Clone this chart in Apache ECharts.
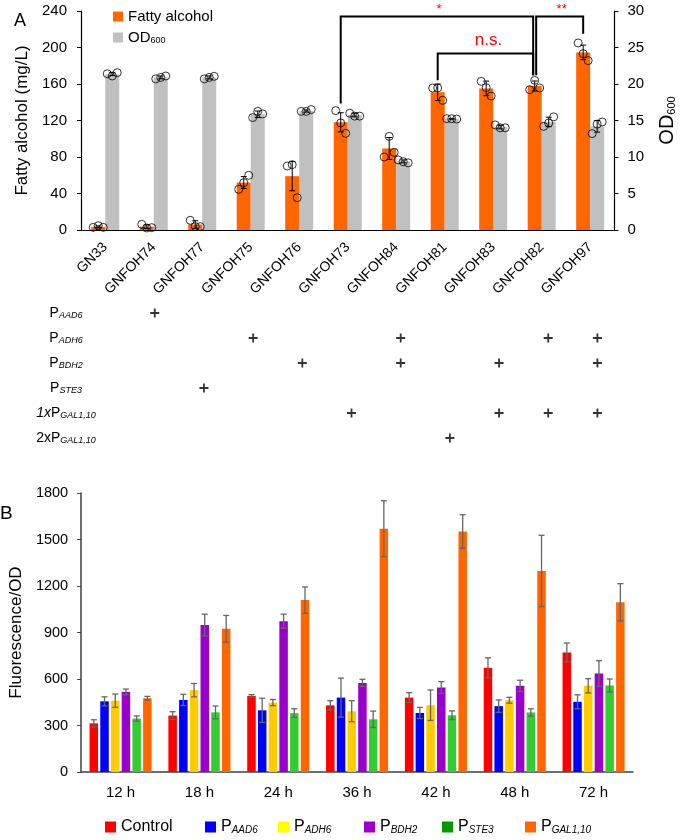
<!DOCTYPE html>
<html><head><meta charset="utf-8">
<script src="https://cdn.jsdelivr.net/npm/echarts@6/dist/echarts.min.js"></script>
<style>html,body{margin:0;padding:0;background:#fff}#c{width:685px;height:840px}</style>
</head><body><div id="c"></div>
<script>
// ---------- Panel A data ----------
const strains = ['GN33','GNFOH74','GNFOH77','GNFOH75','GNFOH76','GNFOH73','GNFOH84','GNFOH81','GNFOH83','GNFOH82','GNFOH97'];
const fattyAlcohol = [3.5, 3.7, 6, 52, 59, 118, 89.3, 151, 155.2, 157.8, 194.6];
const fattyAlcoholSD = [1, 2, 4.2, 6.5, 16, 10.5, 12, 9, 8, 5.5, 8];
const fattyAlcoholPoints = [
  [2.9, 4.7, 2.9], [6.2, 2.2, 2.6], [10.6, 3.7, 3.7], [44.6, 51.9, 59.9], [70.1, 71.6, 35.4],
  [130.8, 117.3, 105.9], [80, 102.6, 85.1], [155.6, 155.6, 142.1], [162.9, 156, 146.8],
  [153.8, 164, 155.6], [205, 193.2, 185.6]
];
const od600 = [21.35, 20.9, 20.9, 15.85, 16.3, 15.75, 9.4, 15.23, 14.1, 14.8, 14.2];
const od600SD = [0.2, 0.2, 0.2, 0.45, 0.15, 0.25, 0.2, 0.05, 0.25, 0.65, 0.8];
const od600Points = [
  [21.4, 21.1, 21.55], [20.7, 20.9, 21.1], [20.7, 20.9, 21.05], [15.4, 16.25, 15.9], [16.25, 16.25, 16.5],
  [16.0, 15.6, 15.6], [9.6, 9.36, 9.2], [15.25, 15.25, 15.2], [14.4, 14.0, 14.0],
  [14.2, 14.66, 15.5], [13.2, 14.5, 14.8]
];
// significance brackets (left-axis units)
const bracketFrom = ['GNFOH73', 'GNFOH81', 'GNFOH82'];
const bracketTo = ['GNFOH82', 'GNFOH82', 'GNFOH97'];
const bracketTop = [234, 193.5, 234];
const bracketFromEnd = [138.5, 164, 169.5];
const bracketToEnd = [169.5, 169.5, 215];
const bracketText = ['*', 'n.s.', '**'];

// promoter table
const promoterRows = ['P_AAD6', 'P_ADH6', 'P_BDH2', 'P_STE3', '1xP_GAL1,10', '2xP_GAL1,10'];
const plusMarks = [
  ['GNFOH74', 'P_AAD6'],
  ['GNFOH75', 'P_ADH6'], ['GNFOH84', 'P_ADH6'], ['GNFOH82', 'P_ADH6'], ['GNFOH97', 'P_ADH6'],
  ['GNFOH76', 'P_BDH2'], ['GNFOH84', 'P_BDH2'], ['GNFOH83', 'P_BDH2'], ['GNFOH97', 'P_BDH2'],
  ['GNFOH77', 'P_STE3'],
  ['GNFOH73', '1xP_GAL1,10'], ['GNFOH83', '1xP_GAL1,10'], ['GNFOH82', '1xP_GAL1,10'], ['GNFOH97', '1xP_GAL1,10'],
  ['GNFOH81', '2xP_GAL1,10']
];

// ---------- Panel B data ----------
const timepoints = ['12 h', '18 h', '24 h', '36 h', '42 h', '48 h', '72 h'];
const seriesB = ['Control', 'P_AAD6', 'P_ADH6', 'P_BDH2', 'P_STE3', 'P_GAL1,10'];
const control   = [314, 364, 491, 430, 480, 672, 771];
const controlSD = [23, 25, 8, 30, 32, 65, 61];
const pAAD6     = [456, 465, 398, 480, 381, 425, 453];
const pAAD6SD   = [29, 36, 78, 126, 36, 40, 45];
const pADH6     = [460, 528, 448, 392, 431, 463, 556];
const pADH6SD   = [43, 43, 20, 68, 98, 19, 46];
const pBDH2     = [517, 948, 973, 575, 545, 556, 636];
const pBDH2SD   = [18, 70, 45, 23, 38, 36, 82];
const pSTE3     = [345, 385, 380, 340, 366, 384, 558];
const pSTE3SD   = [17, 41, 28, 53, 28, 24, 42];
const pGAL     = [476, 924, 1109, 1569, 1552, 1297, 1095];
const pGALSD   = [12, 86, 85, 181, 108, 230, 120];

// ---------- styles ----------
const FONT = 'Liberation Sans, Arial, sans-serif';
const barColorsB = ['#ff0000', '#0000ff', '#ffcc00', '#9900cc', '#33cc33', '#ff6600'];
const legendColorsB = ['#ff0000', '#0000ff', '#ffff00', '#9900cc', '#009900', '#ff6600'];
const legendLeftB = [100, 200, 273, 359, 437, 520];
const jitter = [-5, 0, 5];
const barW_A = 14;
const barW_B = 8.5, gapB = 2.21;
const bracketNudgeL = [0, 0, 1.5];
const bracketNudgeR = [-1.5, -1.5, 0];

function subRich(M, S) {
  const pad = Math.round(M - 0.8 * S);
  return {
    m: {fontSize: M, lineHeight: M, verticalAlign: 'top', fontFamily: FONT, color: '#000'},
    i: {fontSize: M, lineHeight: M, verticalAlign: 'top', fontFamily: FONT, fontStyle: 'italic', color: '#000'},
    s: {fontSize: S, lineHeight: S, verticalAlign: 'bottom', fontFamily: FONT, fontStyle: 'italic', color: '#000', padding: [pad, 0, 0, 0]},
    n: {fontSize: S, lineHeight: S, verticalAlign: 'bottom', fontFamily: FONT, color: '#000', padding: [pad, 0, 0, 0]}
  };
}
function promoterLabel(key) {
  const k = key.indexOf('P_');
  if (k < 0) return '{m|' + key + '}{n| }';
  const pre = key.slice(0, k), sub = key.slice(k + 2);
  let out = '';
  if (pre === '1x') out += '{i|1x}';
  else if (pre) out += '{m|' + pre + '}';
  return out + '{m|P}{s|' + sub + '}';
}

function errorBars(xi, yi, means, sds, offset, color, lw, capHalf) {
  return {
    type: 'custom', xAxisIndex: xi, yAxisIndex: yi, silent: true, z: 4,
    data: means.map((m, i) => [i, m, sds[i]]),
    renderItem: function (params, api) {
      const i = api.value(0), m = api.value(1), s = api.value(2);
      const hi = api.coord([i, m + s]), lo = api.coord([i, m - s]);
      const x = hi[0] + offset;
      const st = {stroke: color, lineWidth: lw};
      return {type: 'group', children: [
        {type: 'line', shape: {x1: x, y1: hi[1], x2: x, y2: lo[1]}, style: st},
        {type: 'line', shape: {x1: x - capHalf, y1: hi[1], x2: x + capHalf, y2: hi[1]}, style: st},
        {type: 'line', shape: {x1: x - capHalf, y1: lo[1], x2: x + capHalf, y2: lo[1]}, style: st}
      ]};
    }
  };
}
function points(yi, pts, barOffset) {
  const data = [];
  pts.forEach((trip, i) => trip.forEach((v, k) => data.push({value: [i, v], symbolOffset: [barOffset + jitter[k], 0]})));
  return {
    type: 'scatter', xAxisIndex: 0, yAxisIndex: yi, z: 5, silent: true,
    symbol: 'circle', symbolSize: 8,
    itemStyle: {color: 'rgba(255,255,255,0)', borderColor: '#000', borderWidth: 1},
    data: data
  };
}

const axisBlack = {lineStyle: {color: '#000', width: 1.2}};
const seriesList = [];
seriesList.push({type: 'bar', name: 'Fatty alcohol', xAxisIndex: 0, yAxisIndex: 0, data: fattyAlcohol,
  barWidth: barW_A, barGap: '0%', itemStyle: {color: '#ff6600'}, silent: true});
seriesList.push({type: 'bar', name: 'OD600', xAxisIndex: 0, yAxisIndex: 1, data: od600,
  barWidth: barW_A, barGap: '0%', itemStyle: {color: '#c0c0c0'}, silent: true});
seriesList.push(errorBars(0, 0, fattyAlcohol, fattyAlcoholSD, -barW_A / 2, '#000', 1, 3));
seriesList.push(errorBars(0, 1, od600, od600SD, barW_A / 2, '#000', 1, 3));
seriesList.push(points(0, fattyAlcoholPoints, -barW_A / 2));
seriesList.push(points(1, od600Points, barW_A / 2));
// brackets
seriesList.push({
  type: 'custom', xAxisIndex: 0, yAxisIndex: 0, silent: true, z: 6,
  data: bracketFrom.map((f, k) => [strains.indexOf(f), strains.indexOf(bracketTo[k]), bracketTop[k], bracketFromEnd[k], bracketToEnd[k]]),
  renderItem: function (params, api) {
    const k = params.dataIndex;
    const a = api.coord([api.value(0), api.value(3)]);
    const at = api.coord([api.value(0), api.value(2)]);
    const b = api.coord([api.value(1), api.value(4)]);
    const x1 = a[0] - barW_A / 2 + bracketNudgeL[k];
    const x2 = b[0] - barW_A / 2 + bracketNudgeR[k];
    const yt = at[1];
    const isNS = bracketText[k] === 'n.s.';
    return {type: 'group', children: [
      {type: 'polyline', shape: {points: [[x1, a[1]], [x1, yt], [x2, yt], [x2, b[1]]]},
        style: {stroke: '#000', lineWidth: 2, fill: null}},
      {type: 'text', x: (x1 + x2) / 2 + (isNS ? 3 : 2), y: yt - (isNS ? 5 : 1),
        style: {text: bracketText[k], fill: '#ff0000', fontSize: isNS ? 17 : 13, fontFamily: FONT,
          align: 'center', verticalAlign: 'bottom'}}
    ]};
  }
});
// plus table
seriesList.push({
  type: 'scatter', xAxisIndex: 1, yAxisIndex: 2, silent: true,
  symbol: 'path://M3.6,0H5.4V3.6H9V5.4H5.4V9H3.6V5.4H0V3.6H3.6Z', symbolSize: 9,
  itemStyle: {color: '#000'},
  data: plusMarks
});
// panel B bars + error bars
const valsB = [control, pAAD6, pADH6, pBDH2, pSTE3, pGAL];
const sdsB = [controlSD, pAAD6SD, pADH6SD, pBDH2SD, pSTE3SD, pGALSD];
seriesB.forEach((n, k) => {
  seriesList.push({type: 'bar', name: n, xAxisIndex: 2, yAxisIndex: 3, data: valsB[k],
    barWidth: barW_B, barGap: (gapB / barW_B * 100).toFixed(1) + '%', itemStyle: {color: barColorsB[k]}, silent: true});
});
seriesB.forEach((n, k) => {
  seriesList.push(errorBars(2, 3, valsB[k], sdsB[k], (k - 2.5) * (barW_B + gapB), '#666', 1.3, 3));
});

const legends = [{
  orient: 'vertical', left: 108, top: 4, itemWidth: 10, itemHeight: 10, itemGap: 4, icon: 'rect',
  data: ['Fatty alcohol', 'OD600'],
  formatter: n => n === 'OD600' ? '{m|OD}{n|600}' : '{m|' + n + '}',
  textStyle: {rich: subRich(15, 9), fontSize: 15, fontFamily: FONT, color: '#000'},
  selectedMode: false
}];
seriesB.forEach((n, k) => {
  legends.push({
    left: legendLeftB[k], top: 812, itemWidth: 11, itemHeight: 11, icon: 'rect',
    data: [{name: n, itemStyle: {color: legendColorsB[k]}}],
    formatter: promoterLabel,
    textStyle: {rich: subRich(16, 10), fontSize: 16, fontFamily: FONT, color: '#000'},
    selectedMode: false
  });
});

const option = {
  animation: false,
  textStyle: {fontFamily: FONT},
  grid: [
    {left: 81, top: 11, width: 541, height: 219},
    {left: 81, top: 300.5, width: 541, height: 150},
    {left: 72, top: 493, width: 561, height: 279}
  ],
  legend: legends,
  graphic: [
    {type: 'text', left: 14, top: 12, style: {text: 'A', fontSize: 18, fontFamily: FONT, fill: '#000'}},
    {type: 'text', left: 0, top: 504, style: {text: 'B', fontSize: 19, fontFamily: FONT, fill: '#000'}}
  ],
  xAxis: [
    {type: 'category', gridIndex: 0, data: strains, axisLine: axisBlack, axisTick: {show: false},
      axisLabel: {rotate: 45, interval: 0, fontSize: 14, color: '#000', margin: 15}},
    {type: 'category', gridIndex: 1, data: strains, show: false},
    {type: 'category', gridIndex: 2, data: timepoints, axisLine: {lineStyle: {color: '#404040', width: 1.5}},
      axisTick: {show: false}, axisLabel: {fontSize: 15, color: '#000', margin: 13}}
  ],
  yAxis: [
    {type: 'value', gridIndex: 0, min: 0, max: 240, interval: 40, axisLine: {show: true, lineStyle: {color: '#000', width: 1.2}},
      axisTick: {show: true, length: 4, lineStyle: {color: '#000'}}, splitLine: {show: false},
      axisLabel: {fontSize: 15, color: '#000', margin: 14},
      name: 'Fatty alcohol (mg/L)', nameLocation: 'middle', nameGap: 42, nameRotate: 90,
      nameTextStyle: {fontSize: 17, color: '#000', fontFamily: FONT}},
    {type: 'value', gridIndex: 0, position: 'right', min: 0, max: 30, interval: 5, axisLine: {show: true, lineStyle: {color: '#000', width: 1.2}},
      axisTick: {show: true, length: 4, lineStyle: {color: '#000'}}, splitLine: {show: false},
      axisLabel: {fontSize: 15, color: '#000', margin: 13},
      name: '{m|OD}{n|600}', nameLocation: 'middle', nameGap: 36, nameRotate: 90,
      nameTextStyle: {fontSize: 20, color: '#000', rich: subRich(20, 11)}},
    {type: 'category', gridIndex: 1, data: promoterRows, inverse: true, axisLine: {show: false}, axisTick: {show: false},
      axisLabel: {formatter: promoterLabel, align: 'center', margin: 15, rich: subRich(14, 9)}},
    {type: 'value', gridIndex: 2, min: 0, max: 1800, interval: 300, axisLine: {show: true, lineStyle: {color: '#404040', width: 1.5}},
      axisTick: {show: true, length: 4, lineStyle: {color: '#404040'}}, splitLine: {show: false},
      axisLabel: {fontSize: 14.5, color: '#000', margin: 13, formatter: v => String(v)},
      name: 'Fluorescence/OD', nameLocation: 'middle', nameGap: 50, nameRotate: 90,
      nameTextStyle: {fontSize: 17, color: '#000', fontFamily: FONT}}
  ],
  series: seriesList
};
const chart = echarts.init(document.getElementById('c'), null, {renderer: 'canvas'});
chart.setOption(option);
</script></body></html>
